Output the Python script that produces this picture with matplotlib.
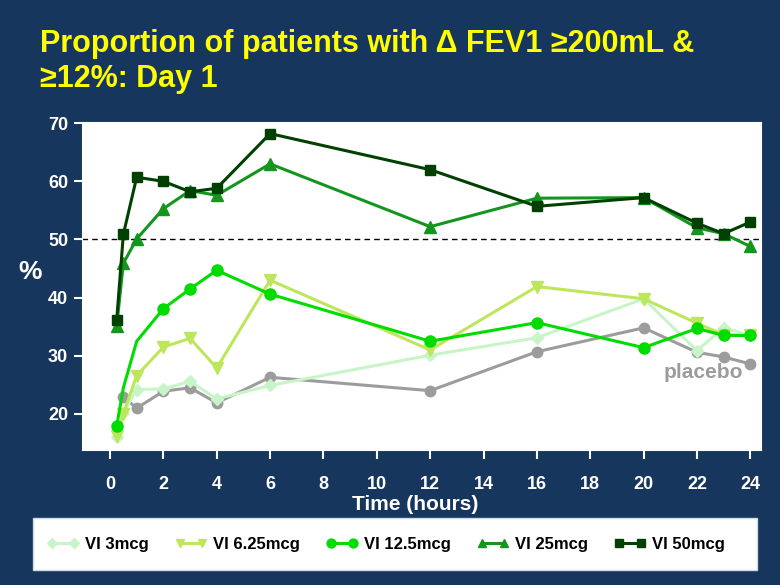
import matplotlib
matplotlib.use("Agg")
import matplotlib.pyplot as plt
from matplotlib.patches import Rectangle

plt.rcParams['font.family'] = ['Liberation Sans', 'DejaVu Sans']

# ---- data ----
t_all = [0.25, 0.5, 1, 2, 3, 4, 6, 12, 16, 20, 22, 23, 24]
t_pbo = [0.5, 1, 2, 3, 4, 6, 12, 16, 20, 22, 23, 24]

vi3 = [16.0, 20.2, 24.2, 24.3, 25.6, 22.6, 24.9, 30.1, 33.1, 39.8, 30.9, 34.8, 33.5]
vi625 = [16.2, 20.0, 26.6, 31.5, 33.0, 27.9, 43.0, 31.0, 41.9, 39.8, 35.6, 33.6, 33.5]
vi125 = [17.9, 24.5, 32.5, 38.1, 41.5, 44.7, 40.6, 32.5, 35.7, 31.4, 34.7, 33.5, 33.5]
vi25 = [35.1, 45.9, 50.1, 55.3, 58.4, 57.6, 63.0, 52.2, 57.1, 57.2, 52.0, 51.0, 48.8]
vi50 = [36.1, 50.9, 60.7, 60.0, 58.2, 58.8, 68.2, 62.0, 55.7, 57.2, 52.8, 51.0, 53.0]
placebo = [22.9, 21.0, 23.9, 24.5, 21.9, 26.3, 24.0, 30.7, 34.8, 30.6, 29.8, 28.6]

series_labels = ["VI 3mcg", "VI 6.25mcg", "VI 12.5mcg", "VI 25mcg", "VI 50mcg"]
x_ticks = list(range(0, 25, 2))
y_ticks = [20, 30, 40, 50, 60, 70]
threshold = 50

BG = "#17365d"
W, H = 780, 585
fig = plt.figure(figsize=(7.8, 5.85), dpi=100, facecolor=BG)
ax = fig.add_axes([82 / W, 1 - 450 / H, (761 - 82) / W, (450 - 122) / H])
ax.set_facecolor("white")

ax.axhline(threshold, color="black", lw=1.0, ls=(0, (4, 3)), zorder=1)

ax.plot(t_pbo, placebo, color="#9c9c9c", marker="o", ms=7.5, lw=2.2, zorder=2)
styles = [
    (vi3, "#c8f5c8", "D", 6.5),
    (vi625, "#bde65c", "v", 8),
    (vi125, "#00dc00", "o", 8),
    (vi25, "#14961e", "^", 8),
    (vi50, "#004000", "s", 7),
]
handles = []
for (vals, col, mk, ms), lab in zip(styles, series_labels):
    kw = {}
    if lab == "VI 12.5mcg":
        kw["markevery"] = [0] + list(range(3, len(t_all)))
    h, = ax.plot(t_all, vals, color=col, marker=mk, ms=ms, lw=2.2, label=lab,
                 zorder=3, **kw)
    handles.append(h)

ax.text(22.25, 27.2, "placebo", color="#9c9c9c", fontsize=15, fontweight="bold",
        ha="center", va="center")

ax.set_xlim(-1.05, 24.4)
ax.set_ylim(13.8, 70.2)
ax.set_xticks(x_ticks)
ax.set_yticks(y_ticks)
for s in ax.spines.values():
    s.set_color("white")
ax.tick_params(colors="white", labelcolor="white", direction="out",
               width=1.5, labelsize=13)
ax.tick_params(axis="x", length=6.5, pad=12)
ax.tick_params(axis="y", length=6, pad=4)
for lbl in ax.get_xticklabels() + ax.get_yticklabels():
    lbl.set_fontweight("bold")
ax.set_xlabel("Time (hours)", color="white", fontsize=15, fontweight="bold", va="center")
ax.xaxis.set_label_coords((415 - 82) / 679, (450 - 505) / 328)
ax.set_ylabel("%", color="white", fontsize=19, fontweight="bold", rotation=0,
              ha="center", va="center")
ax.yaxis.set_label_coords((30 - 82) / 679, (450 - 272) / 328)

fig.text(40 / W, 1 - 52 / H, "Proportion of patients with \u0394 FEV1 \u2265200mL &",
         color="#ffff00", fontsize=22, fontweight="bold", ha="left", va="baseline")
fig.text(40 / W, 1 - 87 / H, "\u226512%: Day 1",
         color="#ffff00", fontsize=22, fontweight="bold", ha="left", va="baseline")

fig.patches.append(Rectangle((33 / W, 1 - 570 / H), (757 - 33) / W, 52 / H,
                             transform=fig.transFigure, facecolor="white",
                             edgecolor="#d0d8e0", lw=1, zorder=0))
leg = fig.legend(handles=handles, loc="center", ncol=5,
                 bbox_to_anchor=(386 / W, 1 - 544 / H),
                 frameon=False, fontsize=12, numpoints=2, handlelength=1.9,
                 markerscale=0.8, handletextpad=0.35, columnspacing=1.6,
                 borderaxespad=0)
for t in leg.get_texts():
    t.set_fontweight("bold")

fig.savefig("out.png", dpi=100, facecolor=BG)
